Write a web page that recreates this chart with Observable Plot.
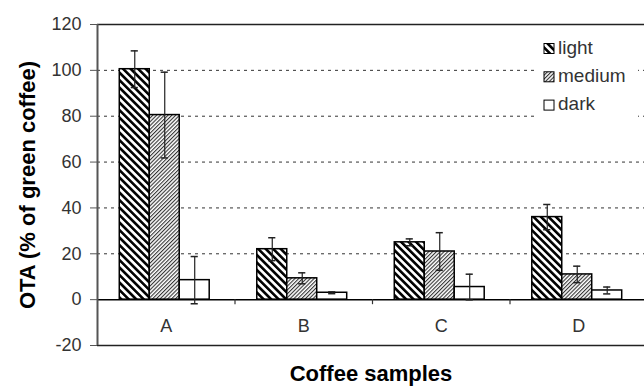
<!DOCTYPE html>
<html>
<head>
<meta charset="utf-8">
<script src="https://cdn.jsdelivr.net/npm/d3@7"></script>
<script src="https://cdn.jsdelivr.net/npm/@observablehq/plot@0.6"></script>
<style>
  html, body { margin: 0; padding: 0; background: #fff; }
  svg { display: block; }
</style>
</head>
<body>
<div id="chart"></div>
<script>
// ---- data ----
const samples = ["A", "B", "C", "D"];
const series = ["light", "medium", "dark"];
const light = [100.5, 22, 25, 36];
const lightErr = [8, 5, 1.5, 5.5];
const medium = [80.5, 9.3, 21, 11];
const mediumErr = [18.7, 2.4, 8.2, 3.6];
const dark = [8.5, 3, 5.5, 4];
const darkErr = [10.3, 0.4, 5.6, 1.5];
const yTicks = [-20, 0, 20, 40, 60, 80, 100, 120];
const gridTicks = [20, 40, 60, 80, 100];
const yLabel = "OTA (% of green coffee)";
const xLabel = "Coffee samples";

const values = {light, medium, dark};
const errors = {light: lightErr, medium: mediumErr, dark: darkErr};
const fills = {light: "url(#hatch-light)", medium: "url(#hatch-medium)", dark: "#fff"};

// layout fractions of each category band
const barOffset = 0.162, barWidth = 0.218, capHalf = 0.026;

const rows = [];
samples.forEach((s, i) => {
  series.forEach((k, j) => {
    const x1 = i + barOffset + j * barWidth;
    rows.push({sample: s, series: k, value: values[k][i], err: errors[k][i],
      x1, x2: x1 + barWidth, xc: x1 + barWidth / 2});
  });
});

const font = "'Liberation Sans', Arial, Helvetica, sans-serif";

const chart = Plot.plot({
  width: 644,
  height: 388,
  marginLeft: 97,
  marginRight: 0,
  marginTop: 24,
  marginBottom: 43,
  style: {fontFamily: font, background: "#fff", overflow: "visible"},
  x: {type: "linear", domain: [0, 4], range: [97, 647], axis: null},
  y: {domain: [-20, 120], axis: null},
  marks: [
    Plot.ruleY(gridTicks, {stroke: "#333", strokeWidth: 1, strokeDasharray: "3,4"}),
    Plot.ruleY([120, -20], {stroke: "#222", strokeWidth: 1.5}),
    ...series.map(k => Plot.rectY(rows.filter(d => d.series === k), {
      x1: "x1", x2: "x2", y: "value",
      fill: fills[k], stroke: "#000", strokeWidth: 1.5
    })),
    Plot.ruleY([0], {stroke: "#000", strokeWidth: 1.5}),
    Plot.ruleX([1, 2, 3], {y1: 0, y2: -2.2, stroke: "#333", strokeWidth: 1.2}),
    Plot.ruleX(rows, {x: "xc", y1: d => d.value - d.err, y2: d => d.value + d.err, stroke: "#222", strokeWidth: 1.2}),
    Plot.ruleY(rows, {y: d => d.value + d.err, x1: d => d.xc - capHalf, x2: d => d.xc + capHalf, stroke: "#222", strokeWidth: 1.5}),
    Plot.ruleY(rows, {y: d => d.value - d.err, x1: d => d.xc - capHalf, x2: d => d.xc + capHalf, stroke: "#222", strokeWidth: 1.5}),
    Plot.ruleX([0], {y1: -20, y2: 120, stroke: "#555", strokeWidth: 2}),
    Plot.axisY(yTicks, {ticks: yTicks, tickSize: 7, tickPadding: 9, fontSize: 18, fill: "#333", stroke: "#555", tickFormat: d => String(d), label: null}),
    Plot.text(samples, {x: (d, i) => i + 0.5, y: 0, dy: 27, text: d => d, fontSize: 18, fill: "#333"}),
    Plot.text([yLabel], {frameAnchor: "left", dx: -70, rotate: -90, textAnchor: "middle", fontSize: 22, fontWeight: "bold", fill: "#000"}),
    Plot.text([xLabel], {frameAnchor: "bottom", dy: 35, textAnchor: "middle", fontSize: 22, fontWeight: "bold", fill: "#000"})
  ]
});

// hatch pattern definitions
const svg = d3.select(chart);
const defs = svg.insert("defs", ":first-child");
const p1 = defs.append("pattern").attr("id", "hatch-light").attr("patternUnits", "userSpaceOnUse")
  .attr("width", 5.3).attr("height", 10).attr("patternTransform", "rotate(-45)");
p1.append("rect").attr("width", 5.3).attr("height", 10).attr("fill", "#fff");
p1.append("rect").attr("width", 2.6).attr("height", 10).attr("fill", "#000");
const p2 = defs.append("pattern").attr("id", "hatch-medium").attr("patternUnits", "userSpaceOnUse")
  .attr("width", 2.7).attr("height", 10).attr("patternTransform", "rotate(45)");
p2.append("rect").attr("width", 2.7).attr("height", 10).attr("fill", "#fff");
p2.append("rect").attr("width", 1.1).attr("height", 10).attr("fill", "#333");

// legend (covers gridlines, like the original)
const lg = svg.append("g").attr("font-family", font).attr("text-anchor", "start");
lg.append("rect").attr("x", 538).attr("y", 36).attr("width", 100).attr("height", 84).attr("fill", "#fff");
series.forEach((k, i) => {
  const y = 43.5 + i * 28.3;
  lg.append("rect").attr("x", 544).attr("y", y).attr("width", 10).attr("height", 10)
    .attr("fill", fills[k]).attr("stroke", "#000").attr("stroke-width", 1);
  lg.append("text").attr("x", 558).attr("y", y + 10).attr("font-size", 19)
    .attr("text-anchor", "start").attr("fill", "#333").text(k);
});

document.getElementById("chart").appendChild(chart);
</script>
</body>
</html>
